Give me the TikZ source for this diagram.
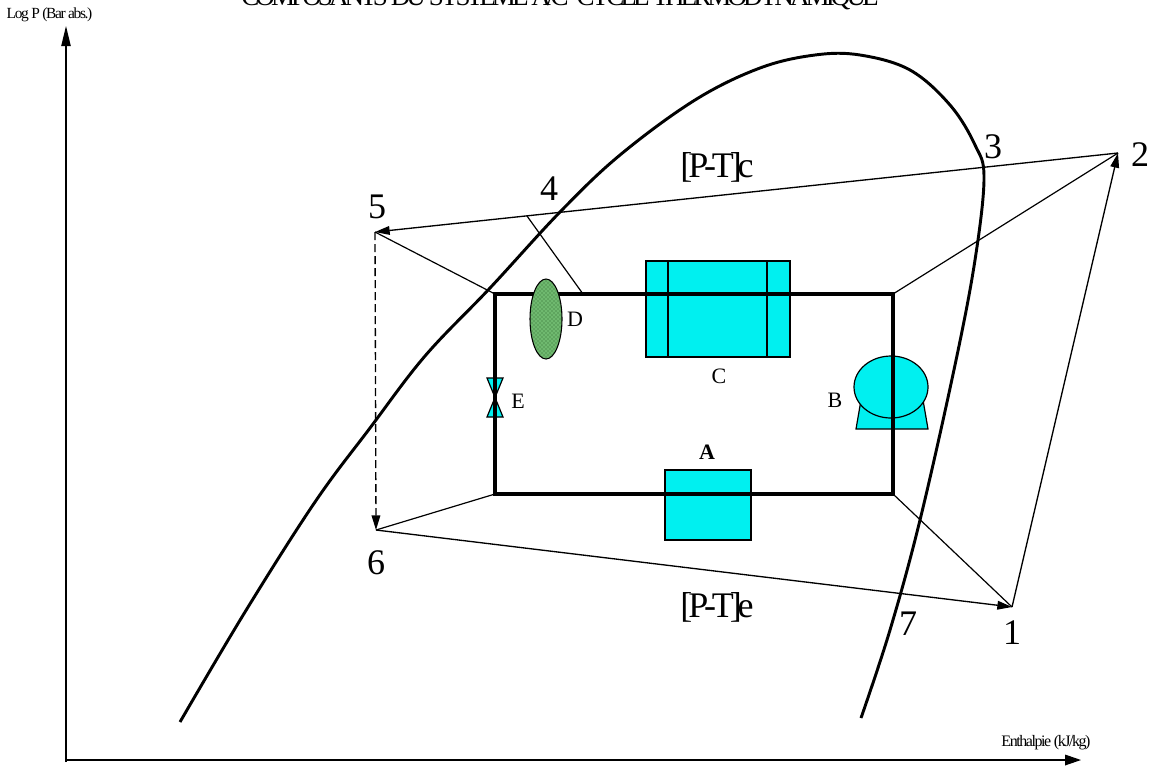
\documentclass[tikz,border=0pt]{standalone}
\usepackage{fontspec}
\setmainfont{Liberation Serif}
\usetikzlibrary{arrows.meta,patterns}
\newcommand{\fs}[2]{\fontsize{#1}{#1}\selectfont\addfontfeature{LetterSpace=#2}}
\definecolor{cy}{HTML}{00F0F0}
\definecolor{dgreen}{HTML}{5FA55F}
\tikzset{
 x=0.75pt,y=-0.75pt,
 tipy/.style={-{Triangle[length=15pt,width=7pt]}},
 tipx/.style={-{Triangle[length=12pt,width=8pt]}},
 thin line/.style={line width=0.9pt,black},
 cyc/.style={line width=1pt,-{Triangle[length=11pt,width=6.5pt]}},
 frame/.style={line width=3pt,black},
 equip/.style={draw=black,line width=0.9pt,fill=cy},
 num/.style={inner sep=0pt,font=\fontsize{27}{27}\selectfont},
 pt/.style={inner sep=0pt,font=\fs{27}{-11.5}},
 letter/.style={inner sep=0pt,font=\fontsize{16.5}{16.5}\selectfont},
 axl/.style={inner sep=0pt},
}
\begin{document}
\begin{tikzpicture}
\useasboundingbox (0,0) rectangle (1155,765);
\clip (0,0) rectangle (1155,765);
% title
\node[inner sep=0pt,anchor=base] (title) at (560,5) {\fs{20.3}{-14.5}COMPOSANTS DU SYSTEME A/C- CYCLE THERMODYNAMIQUE};
% axes
\coordinate (O) at (66,762);
\coordinate (O2) at (66,760);
\coordinate (Y) at (66,26);
\coordinate (X) at (1081,760);
\draw[line width=0.9pt,tipy] (O) -- (Y);
\draw[line width=0.9pt,tipx] (O2) -- (X);
\node[axl,font=\fs{11.6}{-9}] (ylab) at (49.5,15) {Log P (Bar abs.)};
\node[axl,font=\fs{12}{-9}] (xlab) at (1046,743) {Enthalpie (kJ/kg)};
% equipment
\draw[equip] (646,261) rectangle (790,357);
\draw[line width=0.9pt] (668,261) -- (668,357) (767,261) -- (767,357);
\draw[equip] (665,470) rectangle (751,540);
\draw[equip] (861,400) -- (856,429) -- (928,429) -- (923,400) -- cycle;
\draw[equip] (891,387) ellipse [x radius=37,y radius=31];
\draw[equip] (487,378) -- (503,378) -- (487,417) -- (503,417) -- cycle;
% frame
\coordinate (TL) at (495,294);
\coordinate (TR) at (893,294);
\coordinate (BR) at (893,494);
\coordinate (BL) at (495,494);
\coordinate (L4) at (583,294);
\draw[frame] (TL) -- (TR) -- (BR) -- (BL) -- cycle;
% drier on top of frame
\fill[dgreen] (546,319) ellipse [x radius=16,y radius=40];
\draw[line width=0.8pt,pattern=crosshatch dots,pattern color=green!35!white] (546,319) ellipse [x radius=16,y radius=40];
% saturation curve
\draw[line width=2.2pt,line join=round] plot[smooth,tension=0.6] coordinates {(180,722) (245,612) (315,502) (370,428) (425,356) (490,288) (560,212) (620,155) (695,100) (760,68) (815,55) (860,55) (910,70) (950,105) (975,145) (984,178) (975,260) (955,365) (920,520) (890,630) (861,718)};
% cycle
\coordinate (P1) at (1012,607);
\coordinate (P2) at (1118,153);
\coordinate (P5) at (375,232);
\coordinate (P6) at (376,530);
\coordinate (P4) at (527,216);
\draw[cyc] (P2) -- (P5);
\draw[cyc] (P6) -- (P1);
\draw[cyc] (P1) -- (P2);
\draw[cyc,dashed,dash pattern=on 6pt off 3pt] (P5) -- (P6);
\draw[thin line] (P5) -- (TL);
\draw[thin line] (P6) -- (BL);
\draw[thin line] (P2) -- (TR);
\draw[thin line] (P1) -- (BR);
\draw[thin line] (P4) -- (L4);
% labels
\node[num] (n1) at (1012,633) {1};
\node[num] (n2) at (1140,155) {2};
\node[num] (n3) at (993,147) {3};
\node[num] (n4) at (549,189) {4};
\node[num] (n5) at (377,207) {5};
\node[num] (n6) at (376,563) {6};
\node[num] (n7) at (908,624) {7};
\node[pt] (pc) at (717,167) {[P-T]c};
\node[pt] (pe) at (717,607) {[P-T]e};
\node[letter,font=\bfseries\fontsize{16.5}{16.5}\selectfont] (A) at (707,452) {A};
\node[letter] (B) at (835,400) {B};
\node[letter] (C) at (719,376) {C};
\node[letter] (D) at (575,319) {D};
\node[letter] (E) at (518,401) {E};
\end{tikzpicture}
\end{document}
